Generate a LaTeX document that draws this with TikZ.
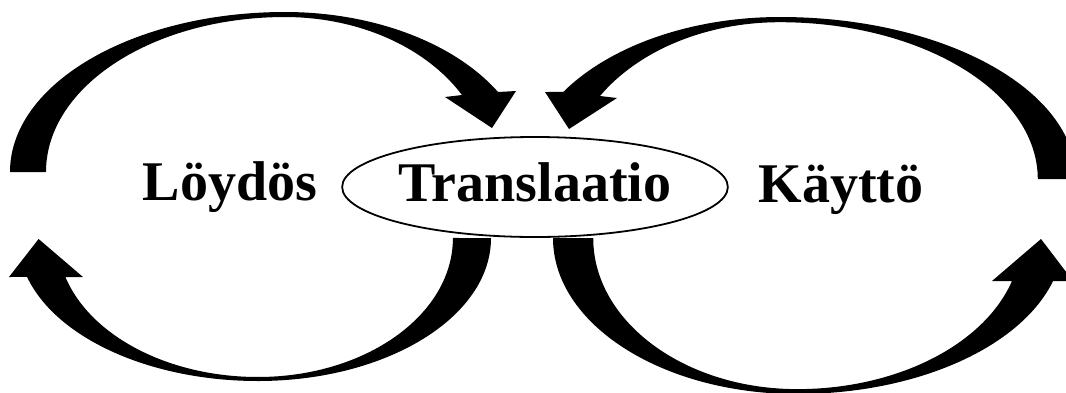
\documentclass[tikz,border=0pt]{standalone}
\usepackage{fontspec}
\setmainfont{Liberation Serif}
\usetikzlibrary{shapes.geometric}
\begin{document}
\begin{tikzpicture}[x=1pt,y=-1pt,
  bigarrow/.style={fill=black, draw=none},
  wordtext/.style={font=\bfseries\fontsize{56}{60}\selectfont, inner sep=0pt},
]
\useasboundingbox (0,0) rectangle (1066,392);
\clip (0,0) rectangle (1066,392);
% top-left arrow: Loydos -> Translaatio
\fill[bigarrow] (10,172)
  arc[start angle=180, end angle=270, x radius=275, y radius=160]
  arc[start angle=270, end angle=330, x radius=246, y radius=160]
  -- (516,91) -- (492,128) -- (445,97) -- (462,95)
  arc[start angle=330.2, end angle=270, x radius=204, y radius=155]
  arc[start angle=270, end angle=180, x radius=239, y radius=155] -- cycle;
% top-right arrow: Kayttoe -> Translaatio
\fill[bigarrow] (1076,179)
  arc[start angle=0, end angle=-90, x radius=296, y radius=162]
  arc[start angle=-90, end angle=-147.5, x radius=257, y radius=162]
  -- (545,92) -- (569,129) -- (617,98) -- (600,96)
  arc[start angle=-148, end angle=-90, x radius=212, y radius=157]
  arc[start angle=-90, end angle=0, x radius=258, y radius=157] -- cycle;
% bottom-left arrow: Translaatio -> Loydos
\fill[bigarrow] (491,238)
  arc[start angle=0, end angle=90, x radius=233, y radius=143]
  arc[start angle=90, end angle=164.2, x radius=240, y radius=143]
  -- (9,277) -- (38.6,239) -- (83,277) -- (65.4,277)
  arc[start angle=163.7, end angle=90, x radius=200.6, y radius=139]
  arc[start angle=90, end angle=0, x radius=195, y radius=139] -- cycle;
% bottom-right arrow: Translaatio -> Kayttoe
\fill[bigarrow] (553,238)
  arc[start angle=180, end angle=90, x radius=244, y radius=156]
  arc[start angle=90, end angle=16, x radius=266.4, y radius=156]
  -- (1073,281) -- (1041,239) -- (992,281) -- (1012,281)
  arc[start angle=16.5, end angle=90, x radius=224, y radius=151]
  arc[start angle=90, end angle=180, x radius=204, y radius=151] -- cycle;
% texts
\node[wordtext, anchor=base] (loydos) at (230,200) {Löydös};
\node[wordtext, draw, ellipse, line width=1.8pt, minimum width=360pt, minimum height=100pt,
      text height=40pt, text depth=12pt] (translaatio) at (535,187) {Translaatio};
\node[wordtext, anchor=base] (kaytto) at (841,202) {Käyttö};
\end{tikzpicture}
\end{document}
